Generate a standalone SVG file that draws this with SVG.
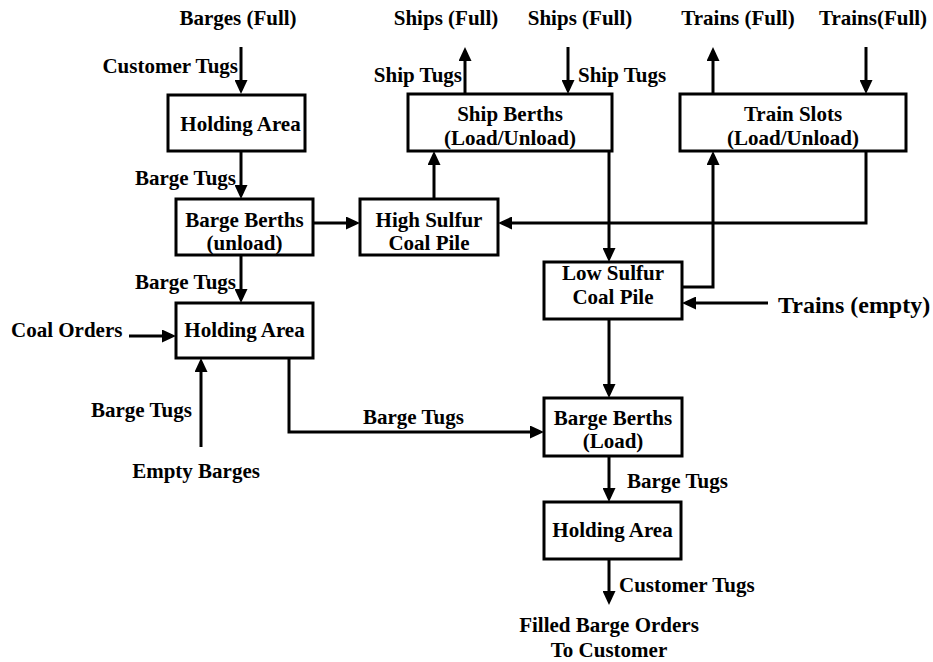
<svg xmlns="http://www.w3.org/2000/svg" width="933" height="662" viewBox="0 0 933 662">
<style>
text{font-family:"Liberation Serif","Times New Roman",serif;font-weight:bold;font-size:21px;fill:#000}
.c{text-anchor:middle}
.r{text-anchor:end}
.box{fill:#fff;stroke:#000;stroke-width:3}
.ln{fill:none;stroke:#000;stroke-width:3}
</style>
<defs>
<marker id="ah" markerUnits="userSpaceOnUse" markerWidth="14" markerHeight="13" refX="10" refY="6.5" orient="auto">
<path d="M0,0 L14,6.5 L0,13 z" fill="#000"/>
</marker>
</defs>
<rect width="933" height="662" fill="#fff"/>
<g id="connectors">
<path class="ln" marker-end="url(#ah)" d="M241,47 V90"/>
<path class="ln" marker-end="url(#ah)" d="M241,151 V195"/>
<path class="ln" marker-end="url(#ah)" d="M241,255 V299"/>
<path class="ln" marker-end="url(#ah)" d="M129,336 H172"/>
<path class="ln" marker-end="url(#ah)" d="M201,447 V362"/>
<path class="ln" marker-end="url(#ah)" d="M289,358 V432 H540"/>
<path class="ln" marker-end="url(#ah)" d="M313,223 H356"/>
<path class="ln" marker-end="url(#ah)" d="M434,199 V155"/>
<path class="ln" marker-end="url(#ah)" d="M465,94 V51"/>
<path class="ln" marker-end="url(#ah)" d="M568,47 V90"/>
<path class="ln" marker-end="url(#ah)" d="M609,151 V258"/>
<path class="ln" marker-end="url(#ah)" d="M866,151 V223 H502"/>
<path class="ln" marker-end="url(#ah)" d="M713,94 V51"/>
<path class="ln" marker-end="url(#ah)" d="M866,47 V90"/>
<path class="ln" marker-end="url(#ah)" d="M682,287 H713 V155"/>
<path class="ln" marker-end="url(#ah)" d="M768,303 H686"/>
<path class="ln" marker-end="url(#ah)" d="M609,319 V394"/>
<path class="ln" marker-end="url(#ah)" d="M609,456 V498"/>
<path class="ln" marker-end="url(#ah)" d="M609,559 V601"/>
</g>
<g id="holding1"><rect class="box" x="168" y="95" width="137" height="56"/><text class="c" x="240.5" y="131">Holding Area</text></g>
<g id="bargeBerthsUnload"><rect class="box" x="176" y="199" width="137" height="56"/><text class="c" x="244.5" y="227">Barge Berths</text><text class="c" x="244.5" y="250">(unload)</text></g>
<g id="holding2"><rect class="box" x="176" y="303" width="137" height="55"/><text class="c" x="244.5" y="337">Holding Area</text></g>
<g id="highSulfur"><rect class="box" x="360" y="199" width="138" height="56"/><text class="c" x="429" y="227">High Sulfur</text><text class="c" x="429" y="250">Coal Pile</text></g>
<g id="shipBerths"><rect class="box" x="408" y="94" width="204" height="57"/><text class="c" x="510" y="121">Ship Berths</text><text class="c" x="510" y="145">(Load/Unload)</text></g>
<g id="trainSlots"><rect class="box" x="680" y="94" width="226" height="57"/><text class="c" x="793" y="121">Train Slots</text><text class="c" x="793" y="145">(Load/Unload)</text></g>
<g id="lowSulfur"><rect class="box" x="544" y="262" width="138" height="57"/><text class="c" x="613" y="280">Low Sulfur</text><text class="c" x="613" y="304">Coal Pile</text></g>
<g id="bargeBerthsLoad"><rect class="box" x="544" y="398" width="138" height="58"/><text class="c" x="613" y="425">Barge Berths</text><text class="c" x="613" y="448">(Load)</text></g>
<g id="holding3"><rect class="box" x="544" y="502" width="137" height="57"/><text class="c" x="612.5" y="537">Holding Area</text></g>
<g id="labels">
<text class="c" x="238" y="25">Barges (Full)</text>
<text class="r" x="238" y="73">Customer Tugs</text>
<text class="r" x="236" y="185">Barge Tugs</text>
<text class="r" x="236" y="289">Barge Tugs</text>
<text x="11" y="337">Coal Orders</text>
<text x="91" y="417">Barge Tugs</text>
<text class="c" x="196" y="478">Empty Barges</text>
<text x="363" y="424">Barge Tugs</text>
<text class="c" x="446" y="25">Ships (Full)</text>
<text class="c" x="580" y="25">Ships (Full)</text>
<text class="r" x="462" y="82">Ship Tugs</text>
<text x="578" y="82">Ship Tugs</text>
<text class="c" x="738" y="25">Trains (Full)</text>
<text class="c" x="873" y="25">Trains(Full)</text>
<text x="778" y="313" style="font-size:24px">Trains (empty)</text>
<text x="627" y="488">Barge Tugs</text>
<text x="619" y="592">Customer Tugs</text>
<text class="c" x="609" y="632">Filled Barge Orders</text>
<text class="c" x="609" y="657">To Customer</text>
</g>
</svg>
